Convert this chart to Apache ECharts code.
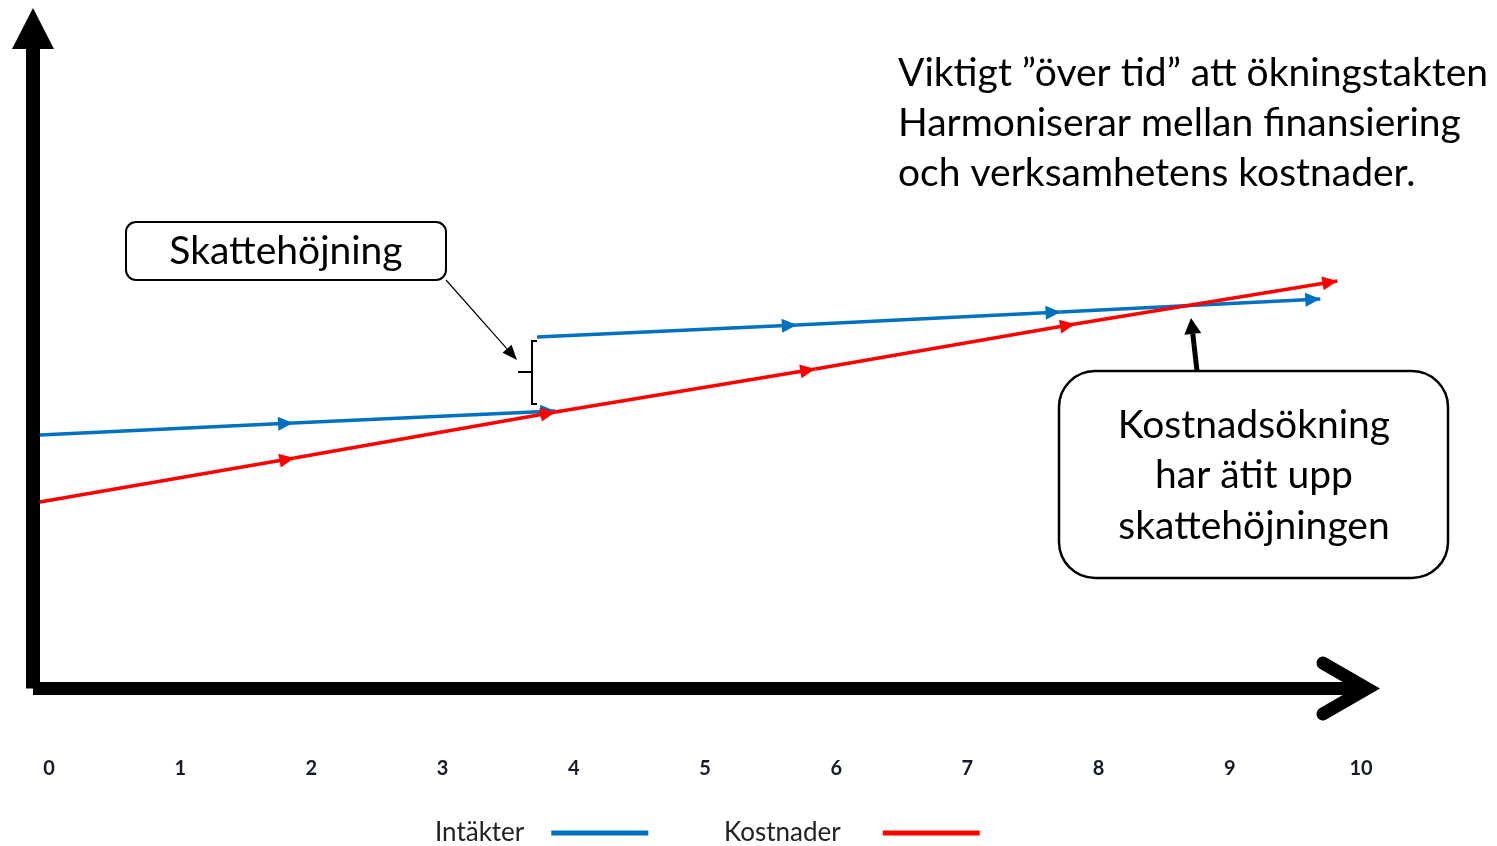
<!DOCTYPE html>
<html>
<head>
<meta charset="utf-8">
<script src="https://cdn.jsdelivr.net/npm/echarts@6/dist/echarts.min.js"></script>
<style>
  html, body { margin: 0; padding: 0; background: #fff; }
  #chart { width: 1497px; height: 846px; }
</style>
</head>
<body>
<div id="chart"></div>
<script>
// values (x in tick units, y in arbitrary units)
const tickValues = [0, 1, 2, 3, 4, 5, 6, 7, 8, 9, 10];
const intakterX1 = [-0.07, 1.86, 3.86];
const intakterY1 = [25.35, 26.55, 27.75];
const intakterX2 = [3.72, 5.7, 7.71, 9.69];
const intakterY2 = [35.15, 36.35, 37.65, 38.95];
const kostnaderX = [-0.07, 1.87, 3.86, 5.84, 7.82, 9.82];
const kostnaderY = [18.65, 23.05, 27.65, 31.95, 36.45, 40.75];

const BLUE = "#0070C0";
const RED = "#FF0000";
const FONT = "Lato, 'Open Sans', sans-serif";

function segments(xs, ys) {
  let out = [];
  for (let i = 0; i < xs.length - 1; i++) {
    out.push({ coords: [[xs[i], ys[i]], [xs[i + 1], ys[i + 1]]] });
  }
  return out;
}

function arrowHead(x1, y1, x2, y2, len, wid) {
  let a = Math.atan2(y2 - y1, x2 - x1);
  let bx = x2 - len * Math.cos(a);
  let by = y2 - len * Math.sin(a);
  let px = (Math.sin(a) * wid) / 2;
  let py = (-Math.cos(a) * wid) / 2;
  return {
    base: [bx, by],
    points: [[x2, y2], [bx + px, by + py], [bx - px, by - py]],
  };
}

// arrow tip sits on the segment end point
const segArrow = "path://M7,0 M7,15 L14,30 L0,30 Z";
const chevron =
  "path://M31.9,0 L62.93,53.75 A6.5,6.5 0 0 1 51.67,60.25 L31.9,26 L12.13,60.25 A6.5,6.5 0 0 1 0.87,53.75 Z";

const thin = arrowHead(446, 280, 517, 360, 15, 12);
const thick = arrowHead(1197, 371, 1191, 318, 16, 17);

function legendBox(name, color, left, gap) {
  return {
    left: left,
    top: 820,
    padding: 0,
    align: "right",
    itemWidth: 95,
    itemHeight: 3,
    textStyle: { fontFamily: FONT, fontSize: 26, color: "#222", padding: [0, gap - 5, 0, 0] },
    data: [{ name: name, icon: "rect", itemStyle: { color: color } }],
  };
}

let chart = echarts.init(document.getElementById("chart"));
let option = {
  animation: false,
  color: [BLUE, RED],
  grid: { left: 33, right: 136, top: 28.5, bottom: 157.5, containLabel: false },
  legend: [
    legendBox("Intäkter", BLUE, 435, 28),
    legendBox("Kostnader", RED, 724, 43),
  ],
  xAxis: {
    type: "value",
    min: -0.122,
    max: 10,
    axisLine: {
      show: true,
      onZero: false,
      symbol: ["none", chevron],
      symbolSize: [63.8, 63.5],
      symbolOffset: [0, -12.75],
      lineStyle: { color: "#000", width: 13, cap: "butt" },
    },
    axisTick: { show: false },
    splitLine: { show: false },
    axisLabel: {
      customValues: tickValues,
      margin: 70,
      fontFamily: FONT,
      fontSize: 20,
      fontWeight: "bold",
      color: "#151b2a",
    },
  },
  yAxis: {
    type: "value",
    min: 0,
    max: 66,
    axisLine: {
      show: true,
      onZero: false,
      symbol: ["none", "triangle"],
      symbolSize: [42, 41],
      lineStyle: { color: "#000", width: 14, cap: "butt" },
    },
    axisTick: { show: false },
    axisLabel: { show: false },
    splitLine: { show: false },
  },
  series: [
    {
      name: "Intäkter",
      type: "lines",
      coordinateSystem: "cartesian2d",
      symbol: ["none", segArrow],
      symbolSize: [1, [14, 30]],
      lineStyle: { color: BLUE, width: 3.5, opacity: 1, curveness: 0 },
      data: segments(intakterX1, intakterY1).concat(segments(intakterX2, intakterY2)),
    },
    {
      name: "Kostnader",
      type: "lines",
      coordinateSystem: "cartesian2d",
      symbol: ["none", segArrow],
      symbolSize: [1, [14, 30]],
      lineStyle: { color: RED, width: 3.5, opacity: 1, curveness: 0 },
      data: segments(kostnaderX, kostnaderY),
    },
  ],
  graphic: [
    {
      type: "text",
      left: 898,
      top: 48,
      style: {
        text: "Viktigt \u201döver tid\u201d att ökningstakten\nHarmoniserar mellan finansiering\noch verksamhetens kostnader.",
        font: "39px " + FONT,
        lineHeight: 50,
        fill: "#000",
      },
    },
    {
      type: "rect",
      shape: { x: 126, y: 222, width: 320, height: 58, r: 10 },
      style: { fill: "#fff", stroke: "#000", lineWidth: 2 },
    },
    {
      type: "text",
      style: {
        text: "Skattehöjning",
        x: 286,
        y: 251,
        align: "center",
        verticalAlign: "middle",
        font: "39px " + FONT,
        fill: "#000",
      },
    },
    {
      type: "line",
      shape: { x1: 446, y1: 280, x2: thin.base[0], y2: thin.base[1] },
      style: { stroke: "#000", lineWidth: 1.2 },
    },
    { type: "polygon", shape: { points: thin.points }, style: { fill: "#000" } },
    {
      type: "polyline",
      shape: { points: [[537, 341], [532, 341], [532, 404], [537, 404]] },
      style: { stroke: "#000", lineWidth: 2, fill: null },
    },
    {
      type: "line",
      shape: { x1: 518, y1: 372, x2: 532, y2: 372 },
      style: { stroke: "#000", lineWidth: 2 },
    },
    {
      type: "line",
      shape: { x1: 1197, y1: 371, x2: thick.base[0], y2: thick.base[1] },
      style: { stroke: "#000", lineWidth: 5 },
    },
    { type: "polygon", shape: { points: thick.points }, style: { fill: "#000" } },
    {
      type: "rect",
      shape: { x: 1059, y: 371, width: 389, height: 207, r: 36 },
      style: { fill: "#fff", stroke: "#000", lineWidth: 2.5 },
    },
    {
      type: "text",
      style: {
        text: "Kostnadsökning\nhar ätit upp\nskattehöjningen",
        x: 1254,
        y: 400,
        align: "center",
        verticalAlign: "top",
        lineHeight: 50.5,
        font: "39px " + FONT,
        fill: "#000",
      },
    },
  ],
};
chart.setOption(option);
</script>
</body>
</html>
